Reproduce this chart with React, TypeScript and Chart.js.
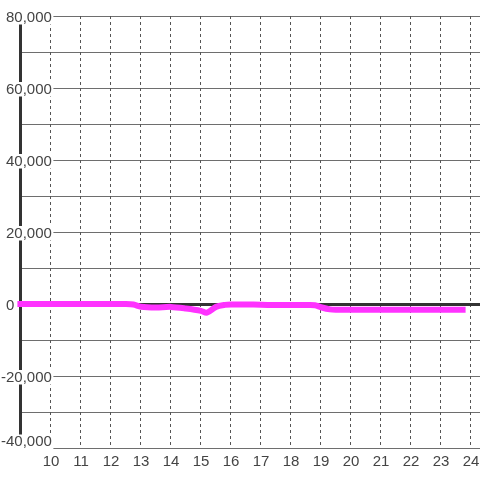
import React, { useEffect, useRef } from "react";
import { Chart, registerables } from "chart.js";

Chart.register(...registerables);

// Hours (x) and values (y) of the single series
const hours = [8.88, 9.5, 10, 10.5, 11, 11.5, 12, 12.5, 12.75, 13, 13.5, 14, 14.5, 15, 15.2, 15.5, 15.8, 16, 16.5, 17, 17.5, 18, 18.5, 18.8, 19, 19.3, 19.5, 20, 21, 22, 23, 23.82];
const values = [0, 0, 0, 0, 0, 0, 0, 0, -150, -750, -950, -800, -1250, -1900, -2400, -800, -250, -150, -150, -200, -300, -300, -300, -350, -900, -1500, -1600, -1600, -1600, -1600, -1600, -1600];

const xTickLabels = [10, 11, 12, 13, 14, 15, 16, 17, 18, 19, 20, 21, 22, 23, 24];
const yGridValues = [-40000, -30000, -20000, -10000, 0, 10000, 20000, 30000, 40000, 50000, 60000, 70000, 80000];
const yTickLabels = [-40000, -20000, 0, 20000, 40000, 60000, 80000];

const X_MIN = 8.8667;
const X_MAX = 24.3;
const AXIS_X = 9;
const FONT = "15px 'Liberation Sans', Arial, sans-serif";

const fmt = (v: number) => {
  const s = Math.abs(v).toString().replace(/\B(?=(\d{3})+(?!\d))/g, ",");
  return (v < 0 ? "-" : "") + s;
};

const framePlugin = {
  id: "frame",
  beforeDatasetsDraw(chart: any) {
    const { ctx, chartArea, scales } = chart;
    const xs = scales.x;
    const ys = scales.y;
    const axisX = Math.round(xs.getPixelForValue(AXIS_X)) - 0.5;
    ctx.save();
    ctx.strokeStyle = "#6e6e6e";
    ctx.lineWidth = 1;
    ctx.setLineDash([]);
    for (const v of yGridValues) {
      const py = Math.round(ys.getPixelForValue(v)) + 0.5;
      ctx.beginPath();
      ctx.moveTo(axisX, py);
      ctx.lineTo(chartArea.right, py);
      ctx.stroke();
    }
    ctx.strokeStyle = "#555";
    ctx.setLineDash([3, 3]);
    for (const t of xTickLabels) {
      const px = Math.round(xs.getPixelForValue(t)) - 0.5;
      ctx.beginPath();
      ctx.moveTo(px, chartArea.top);
      ctx.lineTo(px, chartArea.bottom);
      ctx.stroke();
    }
    ctx.setLineDash([]);
    ctx.strokeStyle = "#333";
    ctx.lineWidth = 3;
    const zy = Math.round(ys.getPixelForValue(0)) + 0.5;
    ctx.beginPath();
    ctx.moveTo(axisX, zy);
    ctx.lineTo(chartArea.right, zy);
    ctx.stroke();
    ctx.beginPath();
    ctx.moveTo(axisX, chartArea.top);
    ctx.lineTo(axisX, chartArea.bottom);
    ctx.stroke();
    ctx.restore();
  },
  afterDatasetsDraw(chart: any) {
    const { ctx, chartArea, scales } = chart;
    const xs = scales.x;
    const ys = scales.y;
    ctx.save();
    ctx.font = FONT;
    ctx.textBaseline = "middle";
    ctx.textAlign = "left";
    const minusW = ctx.measureText("-").width;
    for (const v of yTickLabels) {
      const text = fmt(v);
      const py = ys.getPixelForValue(v);
      const cy = Math.min(py + 1, chartArea.bottom - 6.5);
      const x0 = v < 0 ? 6 - minusW : 6;
      const w = ctx.measureText(text).width;
      ctx.fillStyle = "#ffffff";
      ctx.fillRect(x0 - 1, cy - 7, w + 2.5, 14.5);
      ctx.fillStyle = "#444";
      ctx.fillText(text, x0, cy + 0.5);
    }
    ctx.textAlign = "center";
    for (const t of xTickLabels) {
      const px = xs.getPixelForValue(t);
      ctx.fillStyle = "#444";
      ctx.fillText(String(t), px, chartArea.bottom + 13.5);
    }
    ctx.restore();
  },
};

export default function App() {
  const ref = useRef<HTMLCanvasElement | null>(null);
  useEffect(() => {
    document.body.style.margin = "0";
    const canvas = ref.current;
    if (!canvas) return;
    const chart = new Chart(canvas, {
      type: "line",
      data: {
        datasets: [
          {
            data: hours.map((h, i) => ({ x: h, y: values[i] })),
            borderColor: "#ff33ff",
            borderWidth: 6,
            pointRadius: 0,
            tension: 0.3,
            fill: false,
          },
        ],
      },
      options: {
        responsive: false,
        animation: false,
        layout: { padding: { left: 17, right: 0, top: 16, bottom: 32 } },
        plugins: { legend: { display: false }, tooltip: { enabled: false } },
        scales: {
          x: { type: "linear", min: X_MIN, max: X_MAX, display: false },
          y: { type: "linear", min: -40000, max: 80000, display: false },
        },
      },
      plugins: [framePlugin],
    });
    return () => chart.destroy();
  }, []);
  return (
    <div style={{ width: 480, height: 480, background: "#fff" }}>
      <canvas ref={ref} width={480} height={480} style={{ display: "block", width: 480, height: 480 }} />
    </div>
  );
}
